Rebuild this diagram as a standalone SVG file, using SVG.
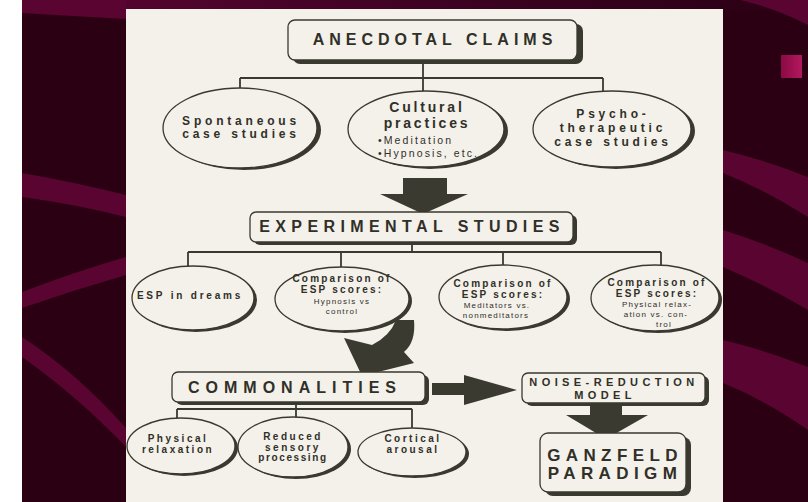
<svg xmlns="http://www.w3.org/2000/svg" width="808" height="502" viewBox="0 0 808 502">
<defs>
<style>
.t{font-family:"Liberation Sans",Arial,sans-serif;font-weight:bold;fill:#302f28;text-anchor:middle}
.n{font-family:"Liberation Sans",Arial,sans-serif;font-weight:normal;fill:#302f28;text-anchor:middle}
.big{font-size:16px;letter-spacing:5px}
.mid{font-size:12px;letter-spacing:3.8px}
.sm{font-size:10px;letter-spacing:2.2px}
.xs{font-size:8px;letter-spacing:1.2px}
.box{fill:#f3f1ea;stroke:#3a392f;stroke-width:1.3}
.shd{fill:#3a392f}
.ell{fill:#f3f1ea;stroke:#3a392f;stroke-width:1.3}
.ln{fill:none;stroke:#3a392f;stroke-width:1.8}
.arr{fill:#3b3a30}
.stripe{fill:#5a0431}
</style>
<linearGradient id="topband" x1="0" y1="0" x2="1" y2="0">
<stop offset="0" stop-color="#5a0431"/>
<stop offset="0.6" stop-color="#3a0220"/>
<stop offset="1" stop-color="#2a0014"/>
</linearGradient>
<linearGradient id="sq" x1="0" y1="0" x2="1" y2="0">
<stop offset="0" stop-color="#8a0a45"/>
<stop offset="1" stop-color="#b3185e"/>
</linearGradient>
</defs>

<!-- background -->
<rect x="0" y="0" width="808" height="502" fill="#2a0012"/>
<rect x="0" y="0" width="22" height="502" fill="#ffffff"/>
<rect x="22" y="0" width="786" height="10" fill="url(#topband)"/>
<path class="stripe" d="M22,0 H126 V19 Q70,16 22,13 Z"/>
<path class="stripe" d="M22,173 Q74,182 126,195 V217 Q74,204 22,197 Z"/>
<path class="stripe" d="M22,292 Q74,272 126,257 V275 Q74,290 22,308 Z"/>
<path class="stripe" d="M22,337 Q76,372 126,428 V447 Q76,395 22,357 Z"/>
<path class="stripe" d="M740,0 H808 V25 Q775,8 740,0 Z"/>
<path class="stripe" d="M723,150 Q765,160 808,177 V217 Q765,190 723,173 Z"/>
<path class="stripe" d="M723,230 Q765,243 808,263 V310 Q765,285 723,267 Z"/>
<path class="stripe" d="M723,340 Q765,350 808,367 V430 Q765,400 723,383 Z"/>
<rect x="781" y="55" width="21" height="23" fill="url(#sq)"/>

<!-- panel -->
<rect x="126" y="9" width="597" height="493" fill="#f3f1ea"/>

<!-- connectors -->
<g id="connectors">
<path class="ln" d="M423,62 V78 M240,78 H603 M240,78 V88 M423,78 V91 M603,78 V91"/>
<path class="ln" d="M412,244 V252 M188,252 H661 M188,252 V266 M341,252 V267 M503,252 V265 M661,252 V265"/>
<path class="ln" d="M296,404 V409 M177,409 H412 M177,409 V418 M296,409 V418 M412,409 V428"/>
<polygon class="arr" points="403,178 447,178 447,194 468,194 423,214 380,194 403,194"/>
<path class="arr" d="M396,320 L414,320 Q416,342 404,352 L414,363 L362,376 L344,338 L372,345 Q390,336 396,320 Z"/>
<polygon class="arr" points="432,383 464,383 464,375 517,390 464,405 464,395 432,395"/>
<polygon class="arr" points="590,405 622,405 622,415 648,415 606,439 566,415 590,415"/>
</g>

<!-- boxes -->
<g id="anecdotal">
<rect class="shd" x="293" y="24" width="290" height="40" rx="7"/>
<rect class="box" x="288" y="20" width="289" height="40" rx="7"/>
<text class="t big" x="435" y="45">ANECDOTAL CLAIMS</text>
</g>
<g id="spontaneous">
<ellipse class="shd" cx="244" cy="130" rx="77" ry="40"/>
<ellipse class="ell" cx="240" cy="128" rx="77" ry="40"/>
<text class="t mid" x="241" y="125">Spontaneous</text>
<text class="t mid" x="241" y="138">case studies</text>
</g>
<g id="cultural">
<ellipse class="shd" cx="430" cy="131" rx="78" ry="38"/>
<ellipse class="ell" cx="426" cy="129" rx="78" ry="38"/>
<text class="t" x="427" y="112" style="font-size:14px;letter-spacing:2.8px">Cultural</text>
<text class="t" x="427" y="128" style="font-size:14px;letter-spacing:2.8px">practices</text>
<text class="n" x="378" y="144" style="font-size:10.5px;letter-spacing:2.1px;text-anchor:start">•Meditation</text>
<text class="n" x="378" y="157" style="font-size:10.5px;letter-spacing:2.1px;text-anchor:start">•Hypnosis, etc.</text>
</g>
<g id="psycho">
<ellipse class="shd" cx="616" cy="131" rx="79" ry="38"/>
<ellipse class="ell" cx="612" cy="129" rx="79" ry="38"/>
<text class="t mid" x="613" y="118">Psycho-</text>
<text class="t mid" x="613" y="132">therapeutic</text>
<text class="t mid" x="613" y="146">case studies</text>
</g>

<g id="experimental">
<rect class="shd" x="254" y="215" width="323" height="30" rx="6"/>
<rect class="box" x="250" y="212" width="323" height="30" rx="6"/>
<text class="t big" x="412" y="232" style="letter-spacing:5.4px">EXPERIMENTAL STUDIES</text>
</g>
<g id="esp-dreams">
<ellipse class="shd" cx="196" cy="300" rx="61" ry="32"/>
<ellipse class="ell" cx="193" cy="298" rx="61" ry="32"/>
<text class="t sm" x="190" y="299" style="letter-spacing:2.8px">ESP in dreams</text>
</g>
<g id="hypnosis">
<ellipse class="shd" cx="345" cy="301" rx="67" ry="32"/>
<ellipse class="ell" cx="342" cy="299" rx="67" ry="32"/>
<text class="t sm" x="342" y="282">Comparison of</text>
<text class="t sm" x="342" y="293">ESP scores:</text>
<text class="n xs" x="342" y="304">Hypnosis vs</text>
<text class="n xs" x="342" y="314">control</text>
</g>
<g id="meditators">
<ellipse class="shd" cx="506" cy="299" rx="64" ry="32"/>
<ellipse class="ell" cx="503" cy="297" rx="64" ry="32"/>
<text class="t sm" x="503" y="287">Comparison of</text>
<text class="t sm" x="503" y="298">ESP scores:</text>
<text class="n xs" x="497" y="308">Meditators vs.</text>
<text class="n xs" x="496" y="318">nonmeditators</text>
</g>
<g id="relaxation">
<ellipse class="shd" cx="658" cy="300" rx="64" ry="33"/>
<ellipse class="ell" cx="655" cy="298" rx="64" ry="33"/>
<text class="t sm" x="657" y="286">Comparison of</text>
<text class="t sm" x="657" y="297">ESP scores:</text>
<text class="n xs" x="657" y="307">Physical relax-</text>
<text class="n xs" x="656" y="317">ation vs. con-</text>
<text class="n xs" x="664" y="327">trol</text>
</g>

<g id="commonalities">
<rect class="shd" x="176" y="375" width="253" height="30" rx="6"/>
<rect class="box" x="172" y="372" width="253" height="30" rx="6"/>
<text class="t big" x="295" y="393" style="letter-spacing:6px">COMMONALITIES</text>
</g>
<g id="physical">
<ellipse class="shd" cx="184" cy="448" rx="54" ry="28"/>
<ellipse class="ell" cx="181" cy="446" rx="54" ry="28"/>
<text class="t sm" x="178" y="442" style="letter-spacing:2.5px">Physical</text>
<text class="t sm" x="178" y="453" style="letter-spacing:2.5px">relaxation</text>
</g>
<g id="reduced">
<ellipse class="shd" cx="296" cy="449" rx="55" ry="30"/>
<ellipse class="ell" cx="293" cy="447" rx="55" ry="30"/>
<text class="t sm" x="293" y="440" style="letter-spacing:2.5px">Reduced</text>
<text class="t sm" x="293" y="450.5" style="letter-spacing:2.5px">sensory</text>
<text class="t sm" x="293" y="461" style="letter-spacing:1.6px">processing</text>
</g>
<g id="cortical">
<ellipse class="shd" cx="415" cy="454" rx="54" ry="24"/>
<ellipse class="ell" cx="412" cy="452" rx="54" ry="24"/>
<text class="t sm" x="413" y="442" style="letter-spacing:2.5px">Cortical</text>
<text class="t sm" x="413" y="453" style="letter-spacing:2.5px">arousal</text>
</g>

<g id="noise-reduction">
<rect class="shd" x="526" y="376" width="183" height="30" rx="6"/>
<rect class="box" x="522" y="373" width="183" height="30" rx="6"/>
<text class="t" x="614" y="386" style="font-size:11px;letter-spacing:4.4px">NOISE-REDUCTION</text>
<text class="t" x="605" y="399" style="font-size:11px;letter-spacing:4.4px">MODEL</text>
</g>
<g id="ganzfeld">
<rect class="shd" x="545" y="437" width="146" height="59" rx="8"/>
<rect class="box" x="540" y="433" width="146" height="59" rx="8"/>
<text class="t" x="615" y="461" style="font-size:17px;letter-spacing:5.4px">GANZFELD</text>
<text class="t" x="615" y="479" style="font-size:17px;letter-spacing:5.4px">PARADIGM</text>
</g>
</svg>
